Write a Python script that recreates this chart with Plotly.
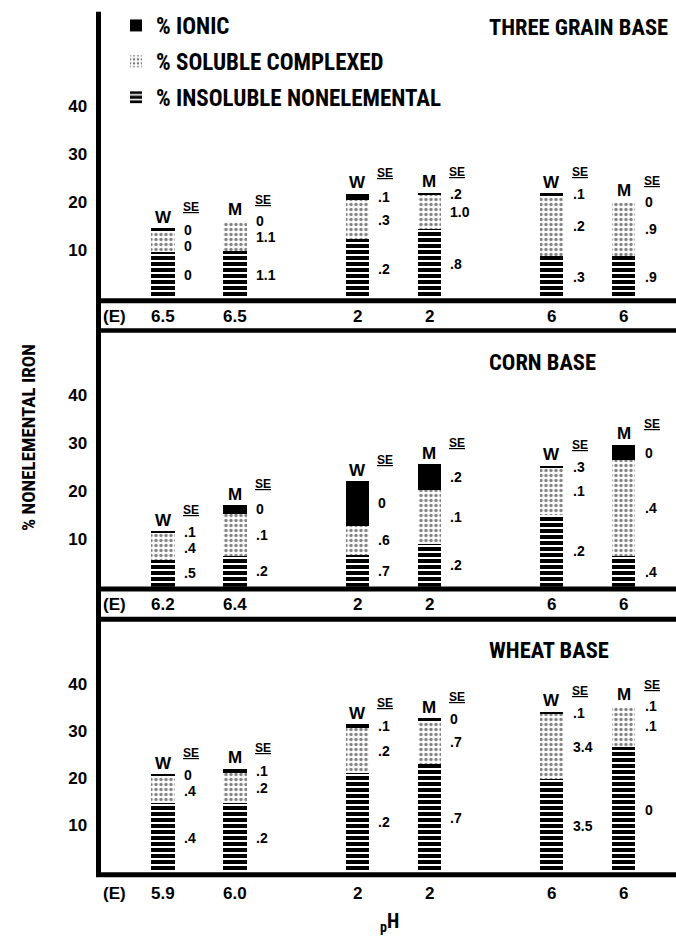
import plotly.graph_objects as go

# ---------------- data ----------------
PANEL_TITLES = ["THREE GRAIN BASE", "CORN BASE", "WHEAT BASE"]
DIETS = ["W", "M", "W", "M", "W", "M"]
GROUP_INDEX = [0, 0, 1, 1, 2, 2]
MEMBER_INDEX = [0, 1, 0, 1, 0, 1]

tg_ph = ["6.5", "6.5", "2", "2", "6", "6"]
tg_insoluble = [9.7, 9.9, 12.4, 14.4, 8.8, 8.8]
tg_soluble = [4.3, 6.3, 8.0, 7.2, 12.6, 11.3]
tg_ionic = [0.6, 0.0, 1.4, 0.4, 0.5, 0.0]
tg_se_ionic = ["0", "0", ".1", ".2", ".1", "0"]
tg_se_soluble = ["0", "1.1", ".3", "1.0", ".2", ".9"]
tg_se_insoluble = ["0", "1.1", ".2", ".8", ".3", ".9"]

corn_ph = ["6.2", "6.4", "2", "2", "6", "6"]
corn_insoluble = [5.6, 6.5, 6.6, 9.0, 15.0, 6.3]
corn_soluble = [5.6, 8.7, 6.1, 11.1, 9.7, 20.0]
corn_ionic = [0.4, 1.8, 9.3, 5.4, 0.5, 3.3]
corn_se_ionic = [".1", "0", "0", ".2", ".3", "0"]
corn_se_soluble = [".4", ".1", ".6", ".1", ".1", ".4"]
corn_se_insoluble = [".5", ".2", ".7", ".2", ".2", ".4"]

wheat_ph = ["5.9", "6.0", "2", "2", "6", "6"]
wheat_insoluble = [14.7, 14.8, 21.2, 23.0, 19.8, 26.7]
wheat_soluble = [5.7, 6.4, 9.4, 9.4, 13.9, 8.7]
wheat_ionic = [0.5, 0.8, 0.9, 0.4, 0.5, 0.0]
wheat_se_ionic = ["0", ".1", ".1", "0", ".1", ".1"]
wheat_se_soluble = [".4", ".2", ".2", ".7", "3.4", ".1"]
wheat_se_insoluble = [".4", ".2", ".2", ".7", "3.5", "0"]

Y_TICKS = [10, 20, 30, 40]
SERIES_NAMES = ["% IONIC", "% SOLUBLE COMPLEXED", "% INSOLUBLE NONELEMENTAL"]

panels = [
    dict(ph=tg_ph, ins=tg_insoluble, sol=tg_soluble, ion=tg_ionic,
         se=(tg_se_ionic, tg_se_soluble, tg_se_insoluble)),
    dict(ph=corn_ph, ins=corn_insoluble, sol=corn_soluble, ion=corn_ionic,
         se=(corn_se_ionic, corn_se_soluble, corn_se_insoluble)),
    dict(ph=wheat_ph, ins=wheat_insoluble, sol=wheat_soluble, ion=wheat_ionic,
         se=(wheat_se_ionic, wheat_se_soluble, wheat_se_insoluble)),
]

# ---------------- layout geometry (pixels) ----------------
W, H = 676, 936
AXIS_X = 98.5
ZERO_PX = [298.3, 586.7, 872.3]
TOP_PX = [12, 333, 622]
PPU = [4.8, 4.8, 4.7]          # pixels per % unit
PH_LABEL_OFFSET = [18, 18, 21]
GROUP_STEP = 2.7
BAR_W = 0.32
FIRST_BAR_PX, UNIT_PX = 163, 72.0
XR = [(AXIS_X - FIRST_BAR_PX) / UNIT_PX, (W - FIRST_BAR_PX) / UNIT_PX]

COND = "Roboto Condensed, DejaVu Sans Condensed, Liberation Sans Narrow, Liberation Sans, Arial, sans-serif"
HELV = "Liberation Sans, Arial, Helvetica, sans-serif"

def px(x):
    return x / W

def py(y):
    return 1 - y / H

xpos = [g * GROUP_STEP + m for g, m in zip(GROUP_INDEX, MEMBER_INDEX)]

fig = go.Figure()
annotations = []
layout_axes = {}

styles = [
    ("insoluble", SERIES_NAMES[2], 3,
     dict(color="black", pattern=dict(shape="-", fgcolor="white", fgopacity=1, fillmode="overlay",
                                      size=6, solidity=0.34))),
    ("soluble", SERIES_NAMES[1], 2,
     dict(color="white", pattern=dict(shape=".", fgcolor="black", bgcolor="white", size=5, solidity=0.35))),
    ("ionic", SERIES_NAMES[0], 1, dict(color="black")),
]

for i, p in enumerate(panels):
    sfx = "" if i == 0 else str(i + 1)
    xa, ya = "x" + sfx, "y" + sfx
    vals = {"insoluble": p["ins"], "soluble": p["sol"], "ionic": p["ion"]}
    for key, name, rank, marker in styles:
        fig.add_trace(go.Bar(
            x=xpos, y=vals[key], width=BAR_W, name=name,
            xaxis=xa, yaxis=ya, legendgroup=key, legendrank=rank,
            showlegend=(i == 0), marker=dict(line=dict(width=0), **marker),
        ))
    ymax = (ZERO_PX[i] - TOP_PX[i]) / PPU[i]
    layout_axes["xaxis" + sfx] = dict(
        domain=[px(AXIS_X), 1], range=XR, anchor=ya, showgrid=False, zeroline=False,
        showline=False, showticklabels=False, ticks="",
    )
    layout_axes["yaxis" + sfx] = dict(
        domain=[py(ZERO_PX[i]), py(TOP_PX[i])], range=[0, ymax], anchor=xa,
        showgrid=False, zeroline=False, showline=False, tickvals=Y_TICKS,
        ticks="outside", ticklen=7, tickcolor="rgba(0,0,0,0)",
        tickfont=dict(family=HELV, size=17, color="black", weight="bold"),
    )
    gap = 16.0 / PPU[i]
    for j in range(len(xpos)):
        ins, sol, ion = p["ins"][j], p["sol"][j], p["ion"][j]
        total = ins + sol + ion
        # pH label under each bar
        annotations.append(dict(x=xpos[j], y=0, xref=xa, yref=ya, text=p["ph"][j],
                                showarrow=False, yanchor="middle", yshift=-PH_LABEL_OFFSET[i],
                                font=dict(family=HELV, size=17, color="black", weight="bold")))
        annotations.append(dict(x=xpos[j], y=total, xref=xa, yref=ya, text=DIETS[j],
                                showarrow=False, yanchor="middle", yshift=11,
                                font=dict(family=HELV, size=17, color="black", weight="bold")))
        annotations.append(dict(x=xpos[j], y=total, xref=xa, yref=ya, text="<u>SE</u>",
                                showarrow=False, xshift=28, yanchor="middle", yshift=21,
                                font=dict(family=HELV, size=12, color="black", weight="bold")))
        y1 = ins + sol + ion / 2
        y2 = min(ins + sol / 2, y1 - gap)
        y3 = min(ins / 2, y2 - gap)
        for yy, txt in zip((y1, y2, y3), (p["se"][0][j], p["se"][1][j], p["se"][2][j])):
            annotations.append(dict(x=xpos[j], y=yy, xref=xa, yref=ya, text=txt,
                                    showarrow=False, xanchor="left", xshift=19, yanchor="middle",
                                    font=dict(family=HELV, size=14, color="black", weight="bold")))
    annotations.append(dict(x=px(101), y=0, xref="paper", yref=ya, text="(E)",
                            showarrow=False, xanchor="left", yanchor="middle",
                            yshift=-PH_LABEL_OFFSET[i],
                            font=dict(family=HELV, size=17, color="black", weight="bold")))

title_y = [27, 362, 650]
for i, t in enumerate(PANEL_TITLES):
    annotations.append(dict(x=px(487), y=py(title_y[i]), xref="paper", yref="paper", text=t,
                            showarrow=False, xanchor="left", yanchor="middle",
                            font=dict(family=COND, size=22.5, color="black", weight="bold")))

annotations.append(dict(x=px(28), y=py(438), xref="paper", yref="paper",
                        text="% NONELEMENTAL IRON", textangle=-90, showarrow=False,
                        xanchor="center", yanchor="middle",
                        font=dict(family=COND, size=19, color="black", weight="bold")))
annotations.append(dict(x=px(390), y=py(922), xref="paper", yref="paper",
                        text="<sub>p</sub>H", showarrow=False, yanchor="middle",
                        font=dict(family=COND, size=20, color="black", weight="bold")))

shapes = [dict(type="line", xref="paper", yref="paper", x0=px(AXIS_X), x1=px(AXIS_X),
               y0=py(11.7), y1=py(877), line=dict(color="black", width=5))]
for yy, wdt in [(300.7, 5), (330.5, 4.5), (589.0, 5), (619.2, 5), (874.8, 5)]:
    shapes.append(dict(type="line", xref="paper", yref="paper", x0=px(96), x1=1,
                       y0=py(yy), y1=py(yy), line=dict(color="black", width=wdt)))

fig.update_layout(
    width=W, height=H, margin=dict(l=0, r=0, t=0, b=0),
    paper_bgcolor="white", plot_bgcolor="white", barmode="stack",
    showlegend=True,
    legend=dict(x=px(116), y=py(4), xanchor="left", yanchor="top", traceorder="grouped",
                tracegroupgap=3, bgcolor="rgba(0,0,0,0)",
                font=dict(family=COND, size=23, color="black", weight="bold")),
    annotations=annotations, shapes=shapes, **layout_axes,
)

fig.write_html("out.html", config={"displayModeBar": False},
               post_script="document.body.style.margin='0px';")
